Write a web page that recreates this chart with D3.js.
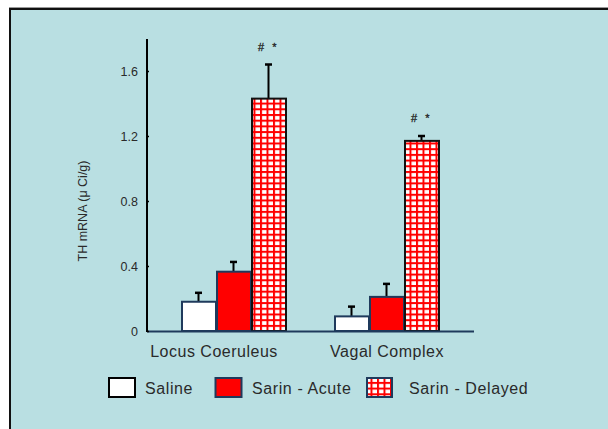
<!DOCTYPE html>
<html>
<head>
<meta charset="utf-8">
<script src="https://cdn.jsdelivr.net/npm/d3@7"></script>
<style>
  html, body { margin: 0; padding: 0; background: #ffffff; }
  svg { display: block; }
  text { font-family: "Liberation Sans", Arial, sans-serif; }
</style>
</head>
<body>
<div id="chart"></div>
<script>
// Regions and treatment groups
const regions = ["Locus Coeruleus", "Vagal Complex"];
const groups = ["Saline", "Sarin - Acute", "Sarin - Delayed"];

// TH mRNA means (µCi/g) per group, indexed by region
const saline  = [0.18, 0.09];
const acute   = [0.365, 0.21];
const delayed = [1.43, 1.17];

// Upper error (SEM) per group, indexed by region
const salineErr  = [0.055, 0.06];
const acuteErr   = [0.06, 0.08];
const delayedErr = [0.21, 0.03];

// Significance marks above the delayed bars
const marks = ["# *", "# *"];

const yTicks = [0, 0.4, 0.8, 1.2, 1.6];

const W = 608, H = 429;
const svg = d3.select("#chart").append("svg")
  .attr("width", W).attr("height", H);

// Panel with dark frame on top and left
svg.append("rect")
  .attr("x", 10).attr("y", 9)
  .attr("width", W + 20).attr("height", H + 20)
  .attr("fill", "#b9dfe2")
  .attr("stroke", "#111").attr("stroke-width", 2);
svg.append("line").attr("x1", 9).attr("x2", W).attr("y1", 7.5).attr("y2", 7.5)
  .attr("stroke", "#9a9a9a").attr("stroke-width", 1);

// Red cross-hatch fill for the delayed group
const defs = svg.append("defs");
const pw = 6.5, ph = 5.7;
const pat = defs.append("pattern")
  .attr("id", "grid")
  .attr("patternUnits", "userSpaceOnUse")
  .attr("width", pw).attr("height", ph);
pat.append("rect").attr("width", pw).attr("height", ph).attr("fill", "#ffffff");
pat.append("rect").attr("x", 0).attr("y", 0).attr("width", 2).attr("height", ph).attr("fill", "#ff0000");
pat.append("rect").attr("x", 0).attr("y", 0).attr("width", pw).attr("height", 2).attr("fill", "#ff0000");

const x0 = 147, yBase = 331;
const y = d3.scaleLinear().domain([0, 1.8]).range([yBase, 38.5]);

const xRegion = d3.scaleBand().domain(regions).range([181, 439]).paddingInner(0.3137).paddingOuter(0);
const xGroup = d3.scaleBand().domain(groups).range([0, xRegion.bandwidth()]).padding(0);

const series = [
  { name: groups[0], vals: saline, errs: salineErr, fill: "#ffffff", stroke: "#1f3a5c" },
  { name: groups[1], vals: acute, errs: acuteErr, fill: "#ff0000", stroke: "#1f3a5c" },
  { name: groups[2], vals: delayed, errs: delayedErr, fill: "url(#grid)", stroke: "#111111" }
];

const plot = svg.append("g");

// Error bars (upper only)
series.forEach(s => {
  regions.forEach((r, i) => {
    const cx = xRegion(r) + xGroup(s.name) + xGroup.bandwidth() / 2;
    plot.append("line")
      .attr("x1", cx).attr("x2", cx)
      .attr("y1", y(s.vals[i])).attr("y2", y(s.vals[i] + s.errs[i]))
      .attr("stroke", "#000").attr("stroke-width", 2);
    plot.append("line")
      .attr("x1", cx - 3.5).attr("x2", cx + 3.5)
      .attr("y1", y(s.vals[i] + s.errs[i])).attr("y2", y(s.vals[i] + s.errs[i]))
      .attr("stroke", "#000").attr("stroke-width", 2.5);
  });
});

// Bars
series.forEach(s => {
  plot.selectAll(null).data(regions).enter().append("rect")
    .attr("x", r => xRegion(r) + xGroup(s.name) + 1)
    .attr("width", xGroup.bandwidth() - 1)
    .attr("y", (r, i) => y(s.vals[i]))
    .attr("height", (r, i) => yBase - y(s.vals[i]))
    .attr("fill", s.fill)
    .attr("stroke", s.stroke).attr("stroke-width", 2);
});

// Significance marks
regions.forEach((r, i) => {
  const cx = xRegion(r) + xGroup(groups[2]) + xGroup.bandwidth() / 2;
  plot.append("text")
    .attr("x", cx).attr("y", y(delayed[i] + delayedErr[i]) - 14)
    .attr("text-anchor", "middle")
    .attr("font-size", 11).attr("letter-spacing", 2.5).attr("fill", "#222")
    .attr("stroke", "#222").attr("stroke-width", 0.3)
    .text(marks[i]);
});

// X axis baseline
svg.append("line")
  .attr("x1", x0).attr("x2", 474).attr("y1", yBase + 0.5).attr("y2", yBase + 0.5)
  .attr("stroke", "#1f3a5c").attr("stroke-width", 2);

// Y axis
const yAxis = d3.axisRight(y).tickValues(yTicks).tickSize(2).tickFormat(d => d === 0 ? "0" : d3.format(".1f")(d));
const ya = svg.append("g").attr("transform", `translate(${x0},0)`).call(yAxis);
ya.select(".domain").remove();
ya.selectAll(".tick line").attr("stroke", "#000").attr("stroke-width", 1.5);
ya.selectAll(".tick text")
  .attr("x", -9).attr("text-anchor", "end")
  .attr("font-size", 12.5).attr("fill", "#2a2a2a")
  .attr("font-family", "Liberation Sans, Arial, sans-serif");
svg.append("line")
  .attr("x1", x0).attr("x2", x0).attr("y1", 39).attr("y2", yBase + 1)
  .attr("stroke", "#000").attr("stroke-width", 2);

// Y axis title
svg.append("text")
  .attr("transform", "translate(87,211) rotate(-90)")
  .attr("text-anchor", "middle")
  .attr("font-size", 12.5).attr("fill", "#2a2a2a")
  .text("TH mRNA (\u03bc Ci/g)");

// Region labels
const regionLabelX = [214, 387];
regions.forEach((r, i) => {
  svg.append("text")
    .attr("x", regionLabelX[i])
    .attr("y", 357)
    .attr("text-anchor", "middle")
    .attr("font-size", 16).attr("letter-spacing", 0.5).attr("fill", "#2a2a2a")
    .text(r);
});

// Legend
const legendX = [109, 215.5, 367];
const legendTextX = [145, 252, 409];
series.forEach((s, i) => {
  svg.append("rect")
    .attr("x", legendX[i]).attr("y", 378)
    .attr("width", i === 2 ? 25 : 26).attr("height", 19)
    .attr("fill", s.fill)
    .attr("stroke", i === 0 ? "#000" : "#1f3a5c")
    .attr("stroke-width", 2);
  svg.append("text")
    .attr("x", legendTextX[i]).attr("y", 394)
    .attr("font-size", 16).attr("letter-spacing", 0.6).attr("fill", "#2a2a2a")
    .text(s.name);
});
</script>
</body>
</html>
